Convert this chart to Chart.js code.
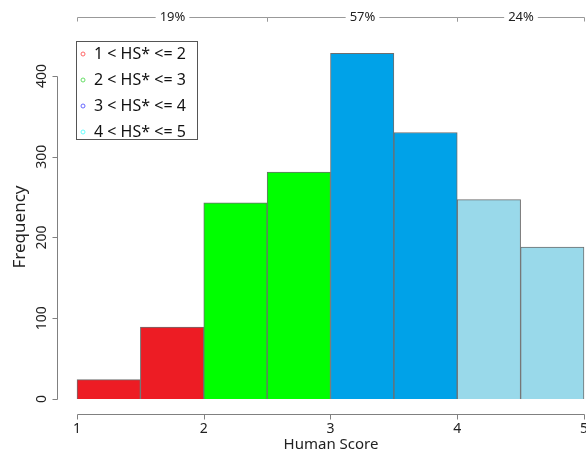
<!DOCTYPE html>
<html lang="en">
<head>
    <meta charset="UTF-8">
    <title>Human Score histogram</title>
    <style>
        body {
            margin: 0;
            padding: 0;
            background: white;
        }
        .wrap {
            width: 586px;
            height: 454px;
        }
    </style>
    <script src="https://cdn.jsdelivr.net/npm/chart.js"></script>
</head>
<body>
    <div class="wrap"><canvas id="histChart"></canvas></div>

    <script>
        // histogram bins (left edge, width 0.5) and counts
        const binStarts = [1, 1.5, 2, 2.5, 3, 3.5, 4, 4.5];
        const counts = [24, 89, 243, 281, 428, 330, 247, 188];
        const binColors = ['#ed1c24', '#ed1c24', '#00ff00', '#00ff00', '#00a2e8', '#00a2e8', '#99d9ea', '#99d9ea'];

        const xTicks = [1, 2, 3, 4, 5];
        const yTicks = [0, 100, 200, 300, 400];

        // share brackets along the top
        const bracketEdges = [1, 2.5, 4, 5];
        const bracketLabels = ['19%', '57%', '24%'];

        const legendLabels = ['1 < HS* <= 2', '2 < HS* <= 3', '3 < HS* <= 4', '4 < HS* <= 5'];
        const legendColors = ['#ff6666', '#66dd66', '#6666ff', '#66ffff'];

        const FONT = '"Noto Sans", "Open Sans", sans-serif';
        const AXIS_COLOR = '#808080';

        // R style axes: lines only over the tick range, plus the brackets and legend
        const rStyle = {
            id: 'rStyle',
            afterDraw(chart) {
                const { ctx, chartArea } = chart;
                const x = chart.scales.x, y = chart.scales.y;
                ctx.save();
                ctx.strokeStyle = AXIS_COLOR;
                ctx.lineWidth = 1;

                // x axis
                const xa = Math.round(chartArea.bottom) + 0.5;
                const x0 = Math.round(x.getPixelForValue(xTicks[0])) + 0.5;
                const x1 = Math.round(x.getPixelForValue(xTicks[xTicks.length - 1])) + 0.5;
                ctx.beginPath();
                ctx.moveTo(x0, xa);
                ctx.lineTo(x1, xa);
                xTicks.forEach(v => {
                    const px = Math.round(x.getPixelForValue(v)) + 0.5;
                    ctx.moveTo(px, xa);
                    ctx.lineTo(px, xa + 5);
                });
                ctx.stroke();

                ctx.fillStyle = '#222';
                ctx.font = '14px ' + FONT;
                ctx.textAlign = 'center';
                ctx.textBaseline = 'middle';
                xTicks.forEach(v => ctx.fillText(String(v), x.getPixelForValue(v), xa + 15));
                ctx.font = '15px ' + FONT;
                ctx.fillText('Human Score', (x0 + x1) / 2, 445);

                // y axis
                const ya = Math.round(chartArea.left) + 0.5;
                ctx.beginPath();
                ctx.moveTo(ya, Math.round(y.getPixelForValue(yTicks[0])) + 0.5);
                ctx.lineTo(ya, Math.round(y.getPixelForValue(yTicks[yTicks.length - 1])) + 0.5);
                yTicks.forEach(v => {
                    const py = Math.round(y.getPixelForValue(v)) + 0.5;
                    ctx.moveTo(ya, py);
                    ctx.lineTo(ya - 5, py);
                });
                ctx.stroke();

                // y tick labels, rotated like R
                ctx.font = '14px ' + FONT;
                yTicks.forEach(v => {
                    ctx.save();
                    ctx.translate(42, y.getPixelForValue(v));
                    ctx.rotate(-Math.PI / 2);
                    ctx.fillText(String(v), 0, 0);
                    ctx.restore();
                });

                // top brackets
                const by = 17.5;
                ctx.strokeStyle = '#999';
                ctx.font = '13px ' + FONT;
                for (let i = 0; i < bracketLabels.length; i++) {
                    const a = Math.round(x.getPixelForValue(bracketEdges[i])) + 0.5;
                    const b = Math.round(x.getPixelForValue(bracketEdges[i + 1])) + 0.5;
                    const mid = (a + b) / 2;
                    const half = ctx.measureText(bracketLabels[i]).width / 2 + 4;
                    ctx.beginPath();
                    ctx.moveTo(a, by + 4);
                    ctx.lineTo(a, by);
                    ctx.lineTo(mid - half, by);
                    ctx.moveTo(mid + half, by);
                    ctx.lineTo(b, by);
                    ctx.lineTo(b, by + 4);
                    ctx.stroke();
                    ctx.fillText(bracketLabels[i], mid, by);
                }

                // legend box
                ctx.strokeStyle = '#555';
                ctx.strokeRect(76.5, 41.5, 121, 98);
                ctx.font = '16px ' + FONT;
                ctx.textAlign = 'left';
                legendLabels.forEach((lab, i) => {
                    const ly = 54 + i * 26;
                    ctx.strokeStyle = legendColors[i];
                    ctx.beginPath();
                    ctx.arc(83, ly, 2, 0, Math.PI * 2);
                    ctx.stroke();
                    ctx.fillStyle = '#111';
                    ctx.fillText(lab, 94, ly);
                });
                ctx.restore();
            }
        };

        const ctx = document.getElementById('histChart').getContext('2d');
        new Chart(ctx, {
            type: 'bar',
            data: {
                datasets: [{
                    data: binStarts.map((s, i) => ({ x: s + 0.25, y: counts[i] })),
                    backgroundColor: binColors,
                    borderColor: '#6e6e6e',
                    borderWidth: 1,
                    barPercentage: 1,
                    categoryPercentage: 1
                }]
            },
            options: {
                responsive: true,
                maintainAspectRatio: false,
                animation: false,
                layout: { padding: { top: 40, left: 0, right: 0, bottom: 0 } },
                plugins: {
                    legend: { display: false },
                    tooltip: { enabled: false }
                },
                scales: {
                    x: {
                        type: 'linear',
                        offset: false,
                        min: 0.842,
                        max: 5.016,
                        grid: { display: false, drawTicks: false, offset: false },
                        border: { display: false },
                        afterBuildTicks: scale => { scale.ticks = xTicks.map(v => ({ value: v })); },
                        afterFit: scale => { scale.height = 40; },
                        ticks: { display: false }
                    },
                    y: {
                        min: -18.6,
                        max: 444.6,
                        grid: { display: false, drawTicks: false },
                        border: { display: false },
                        afterBuildTicks: scale => { scale.ticks = yTicks.map(v => ({ value: v })); },
                        afterFit: scale => { scale.width = 57; },
                        ticks: { display: false },
                        title: {
                            display: true,
                            text: 'Frequency',
                            color: '#222',
                            font: { family: FONT, size: 17 },
                            padding: { top: 10, bottom: 0 }
                        }
                    }
                }
            },
            plugins: [rStyle]
        });
    </script>
</body>
</html>
